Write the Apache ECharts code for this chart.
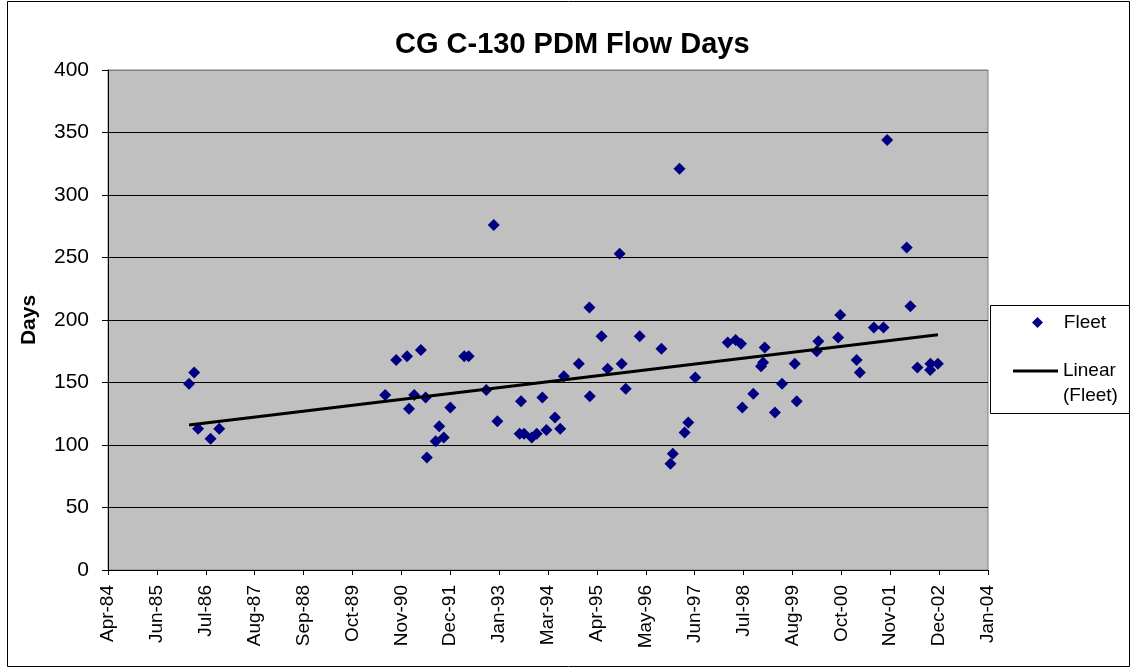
<!DOCTYPE html>
<html>
<head>
<meta charset="utf-8">
<script src="https://cdn.jsdelivr.net/npm/echarts@6/dist/echarts.min.js"></script>
<style>
html,body{margin:0;padding:0;background:#fff;}
#chart{width:1132px;height:669px;}
</style>
</head>
<body>
<div id="chart"></div>
<script>
// ---- data ----
const fleetDates = [
  '1986-02-20','1986-04-03','1986-05-05','1986-08-15','1986-10-25',
  '1990-07-14','1990-10-12','1991-01-09','1991-01-25','1991-03-08','1991-05-02','1991-06-10','1991-06-20',
  '1991-08-31','1991-09-29','1991-11-05','1991-12-29','1992-04-21','1992-05-27','1992-10-18','1992-12-18',
  '1993-01-17','1993-07-18','1993-07-29','1993-08-23','1993-10-25','1993-12-05','1994-01-20','1994-02-22',
  '1994-05-03','1994-06-15','1994-07-15','1994-11-14','1995-02-09','1995-02-12','1995-05-19','1995-07-08',
  '1995-10-14','1995-10-31','1995-12-03','1996-03-26','1996-09-20','1996-12-03','1996-12-22','1997-02-15',
  '1997-03-29','1997-04-28','1997-06-24','1998-03-16','1998-05-20','1998-07-03','1998-07-14','1998-10-12',
  '1998-12-14','1998-12-31','1999-01-13','1999-04-07','1999-06-04','1999-09-16','1999-10-02','2000-03-14',
  '2000-03-27','2000-09-05','2000-09-22','2001-02-03','2001-03-01','2001-06-24','2001-09-11','2001-10-11',
  '2002-03-20','2002-04-19','2002-06-15','2002-09-28','2002-09-30','2002-11-30'
];
const fleetDays = [
  149,158,113,105,113,
  140,168,171,129,140,176,138,90,
  103,115,106,130,171,171,144,276,
  119,109,135,109,106,109,138,112,
  122,113,155,165,210,139,187,161,
  253,165,145,187,177,85,93,321,
  110,118,154,182,184,181,130,141,
  163,166,178,126,149,165,135,175,
  183,186,204,168,158,194,194,344,
  258,211,162,160,165,165
];
const trendDates = ['1986-02-20','2002-11-30'];
const trendDays = [116, 188.2];
const xAxisMinSerial = 30800;   // Apr-84 (Excel date serial)
const xAxisMaxSerial = 38000;   // Jan-04
const xAxisStepDays = 400;
const yTicks = [0, 400, 50];
const monthNames = ['Jan','Feb','Mar','Apr','May','Jun','Jul','Aug','Sep','Oct','Nov','Dec'];

// ---- helpers ----
const EPOCH = Date.UTC(1899, 11, 30);
function toSerial(s) { return (Date.parse(s + 'T00:00:00Z') - EPOCH) / 86400000; }
function serialLabel(v) {
  const d = new Date(EPOCH + Math.round(v) * 86400000);
  const yy = String(d.getUTCFullYear() % 100).padStart(2, '0');
  return monthNames[d.getUTCMonth()] + '-' + yy;
}
const fleetData = fleetDates.map((d, i) => [toSerial(d), fleetDays[i]]);
const trendData = trendDates.map((d, i) => [toSerial(d), trendDays[i]]);

const FONT = "'Liberation Sans', Arial, sans-serif";
const gridColors = [];
for (let v = yTicks[0]; v <= yTicks[1]; v += yTicks[2]) gridColors.push(v === yTicks[1] ? '#808080' : '#000000');

const chart = echarts.init(document.getElementById('chart'), null, {renderer: 'canvas'});
chart.setOption({
  animation: false,
  backgroundColor: '#ffffff',
  title: {
    text: 'CG C-130 PDM Flow Days',
    left: 395, top: 30, padding: 0,
    textStyle: {fontFamily: FONT, fontSize: 29, fontWeight: 'bold', color: '#000'}
  },
  graphic: [
    {type: 'rect', z: -10, shape: {x: 7.5, y: 1.5, width: 1122, height: 665},
     style: {fill: 'none', stroke: '#000', lineWidth: 1}},
    {type: 'rect', z: 0, shape: {x: 990.5, y: 305.5, width: 139, height: 108},
     style: {fill: '#fff', stroke: '#000', lineWidth: 1}}
  ],
  legend: [
    {
      data: [{name: 'Fleet', icon: 'diamond', itemStyle: {color: '#000080', opacity: 1}}],
      left: 1032, top: 313, padding: 0,
      itemWidth: 11, itemHeight: 11,
      selectedMode: false,
      formatter: function (n) { return '   ' + n; },
      textStyle: {fontFamily: FONT, fontSize: 19, color: '#000'}
    },
    {
      data: [{name: 'Linear (Fleet)', icon: 'rect', itemStyle: {color: '#000'}}],
      left: 1013, top: 333.5, padding: 0,
      itemWidth: 45, itemHeight: 3,
      selectedMode: false,
      formatter: function () { return ' \nLinear\n(Fleet)'; },
      textStyle: {fontFamily: FONT, fontSize: 19, color: '#000', lineHeight: 25}
    }
  ],
  grid: {
    left: 108, right: 144, top: 70, bottom: 99,
    show: true, backgroundColor: '#C0C0C0', borderColor: '#808080', borderWidth: 1
  },
  xAxis: {
    type: 'value',
    min: xAxisMinSerial, max: xAxisMaxSerial, interval: xAxisStepDays,
    axisLine: {show: true, onZero: false, lineStyle: {color: '#000', width: 1}},
    axisTick: {show: true, length: 5, lineStyle: {color: '#000'}},
    splitLine: {show: false},
    axisLabel: {
      rotate: 90, margin: 15, color: '#000', fontFamily: FONT, fontSize: 19,
      formatter: serialLabel
    }
  },
  yAxis: {
    type: 'value',
    min: yTicks[0], max: yTicks[1], interval: yTicks[2],
    name: 'Days', nameLocation: 'middle', nameRotate: 90, nameGap: 68,
    nameTextStyle: {fontFamily: FONT, fontSize: 21, fontWeight: 'bold', color: '#000'},
    axisLine: {show: true, lineStyle: {color: '#000', width: 1}},
    axisTick: {show: true, length: 6, lineStyle: {color: '#000'}},
    splitLine: {show: true, lineStyle: {color: gridColors, width: 1}},
    axisLabel: {margin: 19, color: '#000', fontFamily: FONT, fontSize: 21}
  },
  series: [
    {
      name: 'Fleet', type: 'scatter', data: fleetData,
      symbol: 'diamond', symbolSize: 12,
      itemStyle: {color: '#000080', opacity: 1}, z: 3
    },
    {
      name: 'Linear (Fleet)', type: 'line', data: trendData,
      symbol: 'none', showSymbol: false,
      lineStyle: {color: '#000', width: 3},
      itemStyle: {color: '#000'}, z: 4
    }
  ]
});
</script>
</body>
</html>
